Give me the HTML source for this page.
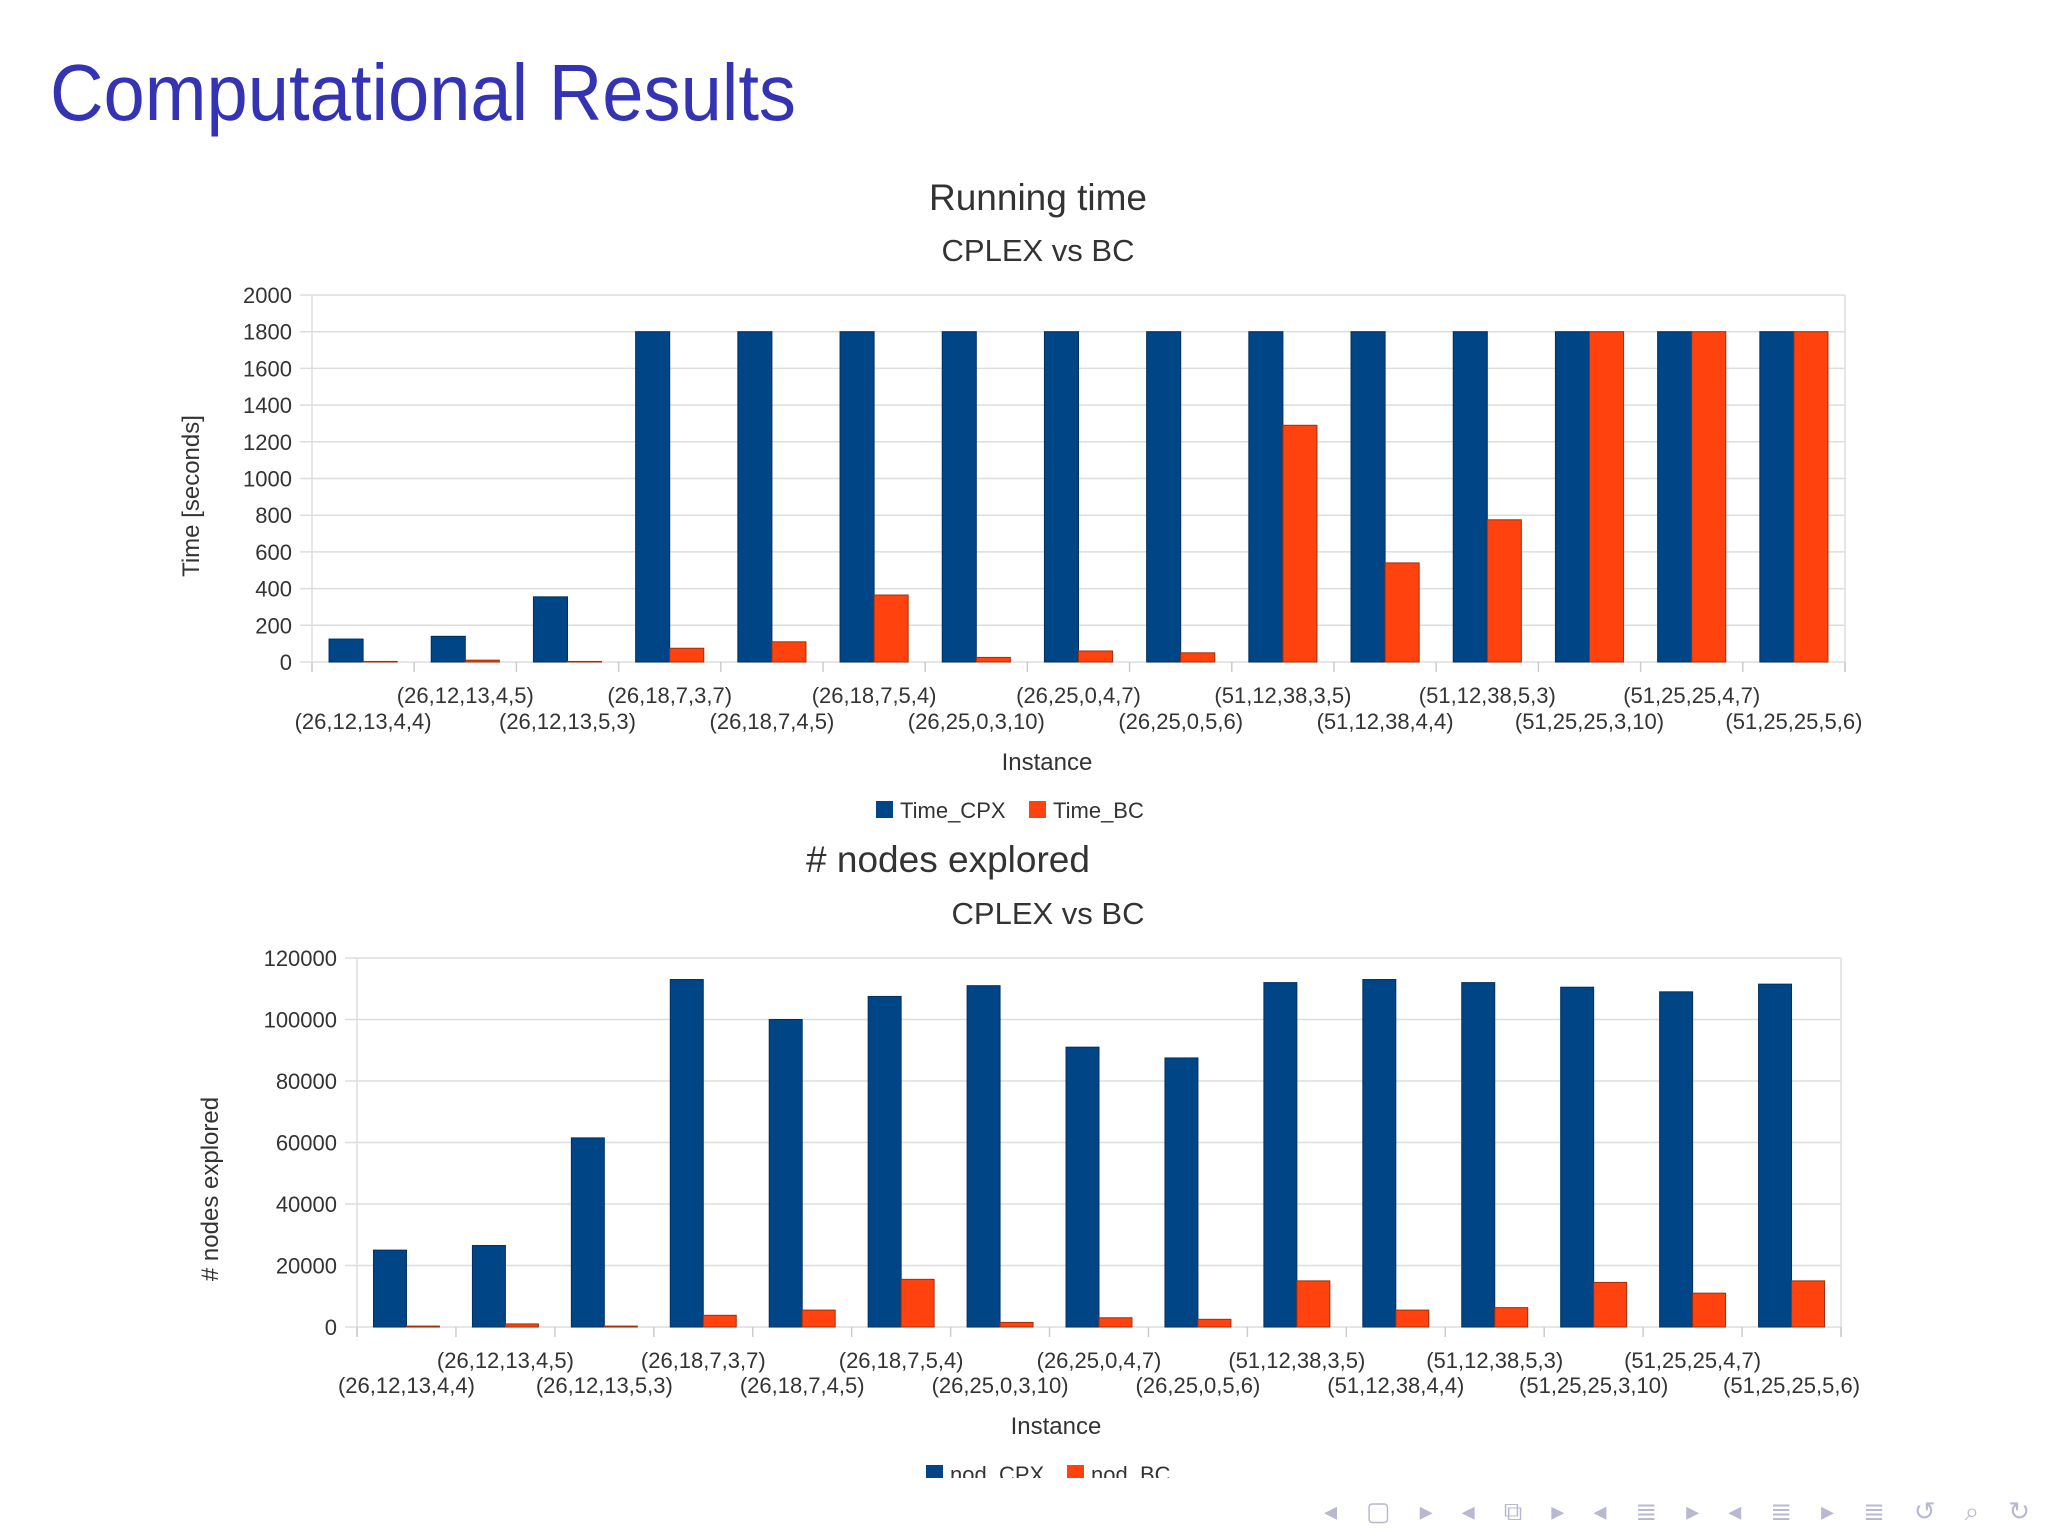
<!DOCTYPE html>
<html><head><meta charset="utf-8"><style>
body{margin:0;background:#fff}
svg{display:block;font-family:"Liberation Sans",sans-serif}
</style></head><body>
<svg id="s" width="2048" height="1536" viewBox="0 0 2048 1536">
<text x="50" y="120" font-size="80" fill="#3333b3" textLength="746" lengthAdjust="spacingAndGlyphs">Computational Results</text>
<g id="c1"></g>
<g id="c2"></g>
<g fill="#b8b8d0" font-size="26">
<text x="1324" y="1520" textLength="706" lengthAdjust="spacing">◂ ▢ ▸  ◂ ⧉ ▸  ◂ ≣ ▸  ◂ ≣ ▸   ≣   ↺ ⌕ ↻</text>
</g>
</svg>
<script>
const categories=["(26,12,13,4,4)","(26,12,13,4,5)","(26,12,13,5,3)","(26,18,7,3,7)","(26,18,7,4,5)","(26,18,7,5,4)","(26,25,0,3,10)","(26,25,0,4,7)","(26,25,0,5,6)","(51,12,38,3,5)","(51,12,38,4,4)","(51,12,38,5,3)","(51,25,25,3,10)","(51,25,25,4,7)","(51,25,25,5,6)"];
const timeCPX=[125,140,355,1800,1800,1800,1800,1800,1800,1800,1800,1800,1800,1800,1800];
const timeBC=[3,10,3,75,110,365,25,60,50,1290,540,775,1800,1800,1800];
const timeTicks=[0,200,400,600,800,1000,1200,1400,1600,1800,2000];
const nodCPX=[25000,26500,61500,113000,100000,107500,111000,91000,87500,112000,113000,112000,110500,109000,111500];
const nodBC=[300,1000,300,3800,5500,15500,1500,3000,2500,15000,5500,6300,14500,11000,15000];
const nodTicks=[0,20000,40000,60000,80000,100000,120000];
const NS="http://www.w3.org/2000/svg";
function mk(p,t,a,txt){const e=document.createElementNS(NS,t);for(const k in a)e.setAttribute(k,a[k]);if(txt!==undefined)e.textContent=txt;p.appendChild(e);return e;}
function chart(g,o){
 const {L,R,T,B,max,ticks,s1,s2,n1,n2}=o;
 const y=v=>B-(v/max)*(B-T);
 const cw=(R-L)/categories.length;
 const x=i=>L+i*cw;
 mk(g,'text',{x:o.t1x,y:o.t1y,'font-size':37,fill:'#333','text-anchor':'middle'},o.t1);
 mk(g,'text',{x:o.t2x,y:o.t2y,'font-size':31,fill:'#333','text-anchor':'middle'},'CPLEX vs BC');
 ticks.forEach(t=>{
  const l=mk(g,'line',{x1:L-12,x2:R,y1:y(t),y2:y(t),stroke:'#ddd','stroke-width':1.5});
  
  const tx=mk(g,'text',{x:L-20,y:y(t)+8,'font-size':22,fill:'#333','text-anchor':'end'},t);
  
 });
 mk(g,'line',{x1:R,x2:R,y1:T,y2:B+10,stroke:'#ddd','stroke-width':1.5});
 mk(g,'line',{x1:L,x2:L,y1:T,y2:B+10,stroke:'#ddd','stroke-width':1.5});
 for(let i=0;i<=categories.length;i++)mk(g,'line',{x1:x(i),x2:x(i),y1:B,y2:B+10,stroke:'#ccc','stroke-width':1.5});
 categories.forEach((c,i)=>{
  const b1=mk(g,'rect',{x:x(i)+cw/6,y:y(s1[i]),width:cw/3,height:B-y(s1[i]),fill:'#004586',stroke:'#003060','stroke-width':1});
  
  
  const b2=mk(g,'rect',{x:x(i)+cw/2,y:y(s2[i]),width:cw/3,height:B-y(s2[i]),fill:'#ff420e',stroke:'#a0300a','stroke-width':1});
  
  
  const lt=mk(g,'text',{x:x(i)+cw/2,y:i%2?o.r1:o.r2,'font-size':22,fill:'#333','text-anchor':'middle'},c);
  
 });
 mk(g,'text',{x:o.ix,y:o.iy,'font-size':24,fill:'#333','text-anchor':'middle'},'Instance');
 mk(g,'text',{x:o.yx,y:o.yy,'font-size':24,fill:'#333','text-anchor':'middle',transform:`rotate(-90 ${o.yx} ${o.yy})`},o.yt);
 const lg=mk(g,'g',{});
 
 if(o.clip){mk(g,'clipPath',{id:'cl'});mk(g.lastChild,'rect',{x:0,y:0,width:2048,height:o.clip});lg.setAttribute('clip-path','url(#cl)');}
 mk(lg,'rect',{x:o.lx,y:o.ly-17,width:17,height:17,fill:'#004586'});
 mk(lg,'text',{x:o.lx+24,y:o.ly,'font-size':22,fill:'#333'},n1);
 mk(lg,'rect',{x:o.lx2,y:o.ly-17,width:17,height:17,fill:'#ff420e'});
 mk(lg,'text',{x:o.lx2+24,y:o.ly,'font-size':22,fill:'#333'},n2);
}
chart(document.getElementById('c1'),{L:312,R:1845,T:295,B:662,max:2000,ticks:timeTicks,s1:timeCPX,s2:timeBC,n1:'Time_CPX',n2:'Time_BC',t1:'Running time',t1x:1038,t1y:210,t2x:1038,t2y:261,r1:703,r2:729,ix:1047,iy:770,yx:199,yy:496,yt:'Time [seconds]',lx:876,lx2:1029,ly:818});
chart(document.getElementById('c2'),{L:357,R:1841,T:958,B:1327,max:120000,ticks:nodTicks,s1:nodCPX,s2:nodBC,n1:'nod_CPX',n2:'nod_BC',t1:'# nodes explored',t1x:948,t1y:872,t2x:1048,t2y:924,r1:1368,r2:1393,ix:1056,iy:1434,yx:218,yy:1189,yt:'# nodes explored',lx:926,lx2:1067,ly:1482,clip:1478});
</script>
</body></html>
